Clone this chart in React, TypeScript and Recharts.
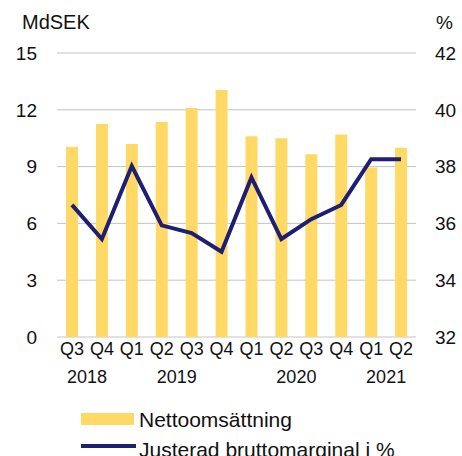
import * as React from 'react';
import {
  ComposedChart, Bar, Line, XAxis, YAxis, CartesianGrid
} from 'recharts';

const quarters = ['Q3', 'Q4', 'Q1', 'Q2', 'Q3', 'Q4', 'Q1', 'Q2', 'Q3', 'Q4', 'Q1', 'Q2'];
const yearLabels = ['2018', '', '', '2019', '', '', '', '2020', '', '', '2021', ''];
const nettoomsattning = [10.05, 11.25, 10.2, 11.35, 12.1, 13.05, 10.6, 10.5, 9.65, 10.7, 8.95, 10.0];
const bruttomarginal = [36.65, 35.45, 38.02, 35.93, 35.66, 35.0, 37.62, 35.45, 36.15, 36.65, 38.26, 38.26];
const leftTicks = [0, 3, 6, 9, 12, 15];
const rightTicks = [32, 34, 36, 38, 40, 42];

const FONT = '"Liberation Sans", Arial, sans-serif';
const YELLOW = '#FFD966';
const NAVY = '#1F1F72';
const TEXT = '#111';

const data = quarters.map((q, i) => ({
  cat: `${q}-${i}`,
  netto: nettoomsattning[i],
  marginal: bruttomarginal[i],
}));

// quarter under each bar, year label half a band to the right
function QuarterTick(props: any) {
  const i = props.index;
  return (
    <g transform={`translate(${props.x},${props.y})`}>
      <text x={0} y={0} dy={10} textAnchor="middle" fontSize={18} fill={TEXT} fontFamily={FONT}>
        {quarters[i]}
      </text>
      {yearLabels[i] ? (
        <text x={15} y={0} dy={38} textAnchor="middle" fontSize={18} fill={TEXT} fontFamily={FONT}>
          {yearLabels[i]}
        </text>
      ) : null}
    </g>
  );
}

const legendText: React.CSSProperties = {
  position: 'absolute', left: 139, fontFamily: FONT, fontSize: 21, lineHeight: '21px',
  color: TEXT, whiteSpace: 'nowrap',
};

export default function App() {
  return (
    <div style={{ position: 'absolute', left: 0, top: 0, width: 462, height: 456, background: '#fff', overflow: 'hidden' }}>
      <div style={{ position: 'absolute', left: 22, top: 12, fontFamily: FONT, fontSize: 20, lineHeight: '20px', color: TEXT }}>MdSEK</div>
      <div style={{ position: 'absolute', left: 436, top: 13, fontFamily: FONT, fontSize: 19, lineHeight: '19px', color: TEXT }}>%</div>
      <ComposedChart
        width={462} height={456} data={data}
        margin={{ top: 53, right: 0, bottom: 0, left: 0 }}
        barCategoryGap={0}
      >
        <CartesianGrid vertical={false} stroke="#c4c4c4" yAxisId="left" />
        <XAxis
          dataKey="cat" axisLine={false} tickLine={false} height={119}
          interval={0} tick={<QuarterTick />}
        />
        <YAxis
          yAxisId="left" width={57} domain={[0, 15]} ticks={leftTicks}
          axisLine={false} tickLine={false} tickMargin={14}
          tick={{ fontSize: 19, fill: TEXT, fontFamily: FONT }}
        />
        <YAxis
          yAxisId="right" orientation="right" width={46} domain={[32, 42]} ticks={rightTicks}
          axisLine={false} tickLine={false} tickMargin={13}
          tick={{ fontSize: 19, fill: TEXT, fontFamily: FONT }}
        />
        <Bar yAxisId="left" dataKey="netto" fill={YELLOW} barSize={12} isAnimationActive={false} />
        <Line
          yAxisId="right" dataKey="marginal" type="linear" stroke={NAVY} strokeWidth={4}
          dot={false} isAnimationActive={false}
        />
      </ComposedChart>
      <div style={{ position: 'absolute', left: 81, top: 413, width: 53, height: 12, background: YELLOW }} />
      <div style={{ ...legendText, top: 409 }}>Nettoomsättning</div>
      <div style={{ position: 'absolute', left: 81, top: 444, width: 55, height: 4, background: NAVY }} />
      <div style={{ ...legendText, top: 439 }}>Justerad bruttomarginal i %</div>
    </div>
  );
}
